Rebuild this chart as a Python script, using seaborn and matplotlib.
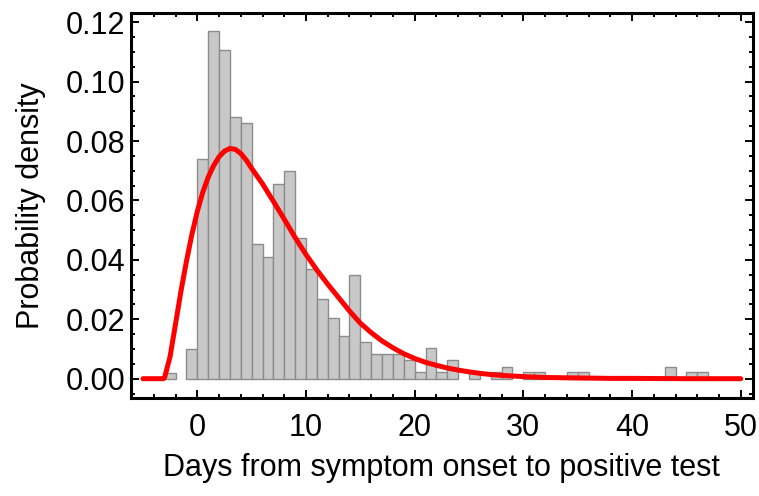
import matplotlib
matplotlib.use("Agg")
import matplotlib.pyplot as plt
import seaborn as sns
import numpy as np
import pandas as pd
from matplotlib.ticker import MultipleLocator, FormatStrFormatter

# ---- data ----
bin_start = [-3, -2, -1, 0, 1, 2, 3, 4, 5, 6,
             7, 8, 9, 10, 11, 12, 13, 14, 15, 16,
             17, 18, 19, 20, 21, 22, 23, 24, 25, 26,
             27, 28, 29, 30, 31, 32, 33, 34, 35, 36,
             37, 38, 39, 40, 41, 42, 43, 44, 45, 46]
density = [0.0020, 0.0, 0.0101, 0.0740, 0.1170, 0.1108, 0.0882, 0.0862, 0.0452, 0.0411,
           0.0657, 0.0698, 0.0472, 0.0369, 0.0267, 0.0205, 0.0144, 0.0349, 0.0123, 0.0082,
           0.0082, 0.0082, 0.0062, 0.0021, 0.0103, 0.0021, 0.0062, 0.0, 0.0021, 0.0,
           0.0021, 0.0041, 0.0, 0.0021, 0.0021, 0.0, 0.0, 0.0021, 0.0021, 0.0,
           0.0, 0.0, 0.0, 0.0, 0.0, 0.0, 0.0041, 0.0, 0.0021, 0.0021]

curve_x = [-5, -4, -3.1, -3, -2.5, -2, -1.5, -1, -0.5, 0, 0.5, 1, 1.5, 2, 2.5, 3, 3.5,
           4, 4.5, 5, 5.5, 6, 7, 8, 9, 10, 11, 12, 13, 14, 15, 16, 17, 18, 19, 20,
           21, 22, 23, 24, 25, 26, 27, 28, 29, 30, 32, 34, 36, 38, 40, 45, 50]
curve_y = [0.0, 0.0, 0.0, 0.0005, 0.0075, 0.0185, 0.0295, 0.0395, 0.0485, 0.0563,
           0.0627, 0.0678, 0.0717, 0.0747, 0.0766, 0.0775, 0.0772, 0.0758, 0.0736,
           0.0708, 0.0682, 0.0656, 0.0597, 0.0537, 0.0475, 0.0418, 0.0366, 0.0318,
           0.0273, 0.0228, 0.0187, 0.0155, 0.0127, 0.0104, 0.0084, 0.0068, 0.0055,
           0.0045, 0.0036, 0.0029, 0.0023, 0.0018, 0.0014, 0.0011, 0.0009, 0.0007,
           0.0004, 0.0003, 0.0002, 0.0001, 0.0001, 0.0, 0.0]

x_label = "Days from symptom onset to positive test"
y_label = "Probability density"

# ---- plotting ----
sns.set_style("ticks")
plt.rcParams["font.family"] = ["Liberation Sans", "DejaVu Sans"]
plt.rcParams["text.color"] = "black"
plt.rcParams["axes.labelcolor"] = "black"
plt.rcParams["xtick.color"] = "black"
plt.rcParams["ytick.color"] = "black"

fig = plt.figure(figsize=(7.59, 4.96), dpi=100)
ax = fig.add_axes([131 / 759, 1 - 398 / 496, (752.7 - 131) / 759, (398 - 13) / 496])

hist_df = pd.DataFrame({"day": [b + 0.5 for b in bin_start], "density": density})
edges = bin_start + [bin_start[-1] + 1]
sns.histplot(data=hist_df, x="day", weights="density", bins=edges, stat="count",
             color="#c8c8c8", edgecolor="#8c8c8c", linewidth=1.0, alpha=1.0, ax=ax)
for p in ax.patches:
    if p.get_height() == 0:
        p.set_visible(False)

curve_df = pd.DataFrame({"x": curve_x, "y": curve_y})
sns.lineplot(data=curve_df, x="x", y="y", color="#ff0000", linewidth=3.6, ax=ax,
             sort=False, estimator=None)

ax.set_xlim(-6.1, 51.1)
ax.set_ylim(-0.0065, 0.1231)

ax.xaxis.set_major_locator(MultipleLocator(10))
ax.xaxis.set_minor_locator(MultipleLocator(2))
ax.yaxis.set_major_locator(MultipleLocator(0.02))
ax.yaxis.set_minor_locator(MultipleLocator(0.005))
ax.yaxis.set_major_formatter(FormatStrFormatter("%.2f"))

ax.tick_params(which="both", direction="in", top=True, right=True, color="black",
               labelcolor="black", width=1.4)
ax.tick_params(which="major", length=5.5, labelsize=22, pad=11)
ax.tick_params(which="minor", length=3)
ax.tick_params(axis="y", which="major", pad=4)

for s in ax.spines.values():
    s.set_linewidth(2.2)
    s.set_color("black")

ax.set_xlabel(x_label, fontsize=22, labelpad=7, color="black")
ax.set_ylabel(y_label, fontsize=22, labelpad=14, color="black")

fig.savefig("out.png", dpi=100)
